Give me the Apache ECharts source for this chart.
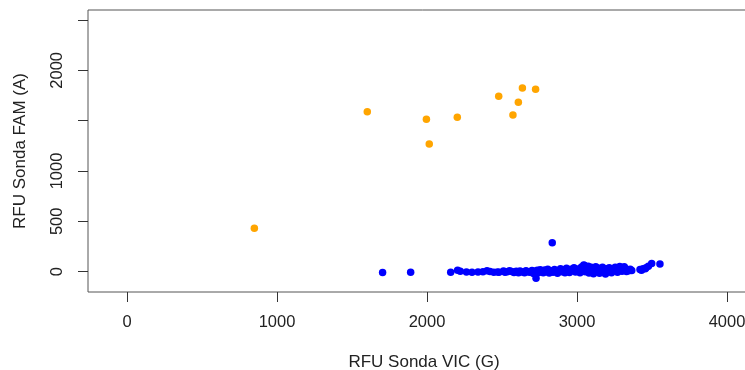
<!DOCTYPE html>
<html>
<head>
<meta charset="utf-8">
<script src="https://cdn.jsdelivr.net/npm/echarts@6/dist/echarts.min.js"></script>
<style>
  html, body { margin: 0; padding: 0; background: #fff; overflow: hidden; width: 745px; height: 370px; }
  #chart { width: 760px; height: 370px; }
</style>
</head>
<body>
<div id="chart"></div>
<script>
// pontos FAM (laranja) e VIC (azul)
const famPoints = [
  [849, 431], [1602, 1589], [1996, 1513], [2015, 1268], [2202, 1533],
  [2478, 1742], [2573, 1556], [2609, 1682], [2636, 1824], [2724, 1811]
]
const vicPoints = [
  [1704, -8], [1891, -6], [2158, -6], [2204, 14], [2222, 4], [2263, -4],
  [2300, -6], [2340, -3], [2373, 0], [2400, 8], [2420, 2], [2445, -5],
  [2470, -4], [2480, -6], [2510, 6], [2520, -6], [2535, -2], [2550, 8],
  [2565, 2], [2580, -8], [2595, 4], [2610, -10], [2620, 6], [2635, -4],
  [2650, -12], [2660, 8], [2670, 0], [2685, -6], [2700, 12], [2710, -18],
  [2720, 3], [2727, -65], [2735, 14], [2745, -8], [2755, 18], [2765, 2],
  [2775, -12], [2785, 16], [2795, 0], [2805, 24], [2815, -14], [2825, 8],
  [2835, 288], [2840, -6], [2850, 22], [2860, 2], [2870, -16], [2880, 12],
  [2890, 30], [2900, -2], [2910, 18], [2920, -10], [2930, 34], [2940, 8],
  [2950, -8], [2960, 24], [2970, 12], [2980, 40], [2990, -4], [3000, 26],
  [3010, 10], [3020, -12], [3030, 46], [3040, 18], [3045, 65], [3050, 60],
  [3055, 0], [3060, 32], [3065, 30], [3075, 55], [3080, -14], [3085, 18],
  [3095, 44], [3105, 0], [3110, -20], [3115, 28], [3125, 50], [3135, 12],
  [3145, 34], [3150, -16], [3155, -4], [3165, 24], [3170, 44], [3175, 8],
  [3185, -14], [3190, -22], [3195, 28], [3205, 15], [3215, 38], [3225, 2],
  [3230, -10], [3235, 22], [3245, 32], [3255, 44], [3265, 10], [3270, -6],
  [3275, 28], [3285, 52], [3295, 38], [3300, 4], [3305, 20], [3315, 48],
  [3325, 30], [3330, 2], [3335, 15], [3345, 10], [3355, 25], [3365, 12],
  [3420, 22], [3430, 14], [3440, 30], [3455, 28], [3460, 40], [3476, 55],
  [3498, 80], [3553, 76]
]
const xTicks = [0, 1000, 2000, 3000, 4000]
const yTicks = [0, 500, 1000, 1500, 2000, 2500]
const yLabels = [0, 500, 1000, 2000]

const chart = echarts.init(document.getElementById('chart'))

const tickStyle = { show: true, length: 10, lineStyle: { color: '#333', width: 1 } }
const labelFont = { fontFamily: 'Liberation Sans, Arial', fontSize: 16.5, color: '#222' }
const titleFont = { fontFamily: 'Liberation Sans, Arial', fontSize: 17, fill: '#222', align: 'center', verticalAlign: 'middle' }

const option = {
  animation: false,
  grid: {
    left: 88,
    top: 10,
    bottom: 78,
    right: 3, // caixa sai pela direita da janela
    show: true,
    borderColor: '#555',
    borderWidth: 1
  },
  xAxis: {
    type: 'value',
    min: -260,
    max: 4200,
    axisLine: { show: false, onZero: false },
    splitLine: { show: false },
    axisTick: { ...tickStyle, customValues: xTicks },
    axisLabel: { ...labelFont, margin: 22, customValues: xTicks, formatter: (v) => String(v) }
  },
  yAxis: {
    type: 'value',
    min: -202,
    max: 2599,
    axisLine: { show: false, onZero: false },
    splitLine: { show: false },
    axisTick: { ...tickStyle, customValues: yTicks },
    axisLabel: { ...labelFont, margin: 22, rotate: 90, customValues: yLabels, formatter: (v) => String(v) }
  },
  graphic: [
    {
      type: 'text',
      x: 424,
      y: 362,
      style: { text: 'RFU Sonda VIC (G)', ...titleFont }
    },
    {
      type: 'text',
      x: 20,
      y: 151,
      rotation: Math.PI / 2,
      style: { text: 'RFU Sonda FAM (A)', ...titleFont }
    }
  ],
  series: [
    {
      name: 'VIC',
      type: 'scatter',
      data: vicPoints,
      symbolSize: 7.5,
      itemStyle: { color: '#0000FF', opacity: 1 }
    },
    {
      name: 'FAM',
      type: 'scatter',
      data: famPoints,
      symbolSize: 7.5,
      itemStyle: { color: '#FFA500', opacity: 1 }
    }
  ]
}

chart.setOption(option)
</script>
</body>
</html>
